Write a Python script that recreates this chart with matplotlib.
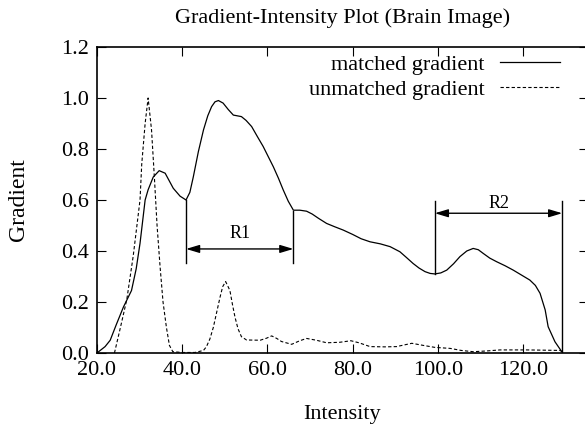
import matplotlib
matplotlib.use('Agg')
import matplotlib.pyplot as plt

plt.rcParams.update({'font.family': ['Liberation Serif', 'DejaVu Serif'],
                     'font.size': 16, 'mathtext.fontset': 'stix'})

# matched gradient (solid)
x_matched = [20.0, 21.9, 23.1, 24.5, 26.2, 28.1, 29.2, 30.1, 31.3, 32.0, 33.2,
             34.6, 36.0, 37.9, 39.5, 40.9, 41.8, 42.6, 43.8, 45.0, 46.0, 46.9,
             47.7, 48.5, 49.6, 50.8, 52.0, 53.9, 55.0, 56.3, 57.6, 59.0, 60.2,
             61.4, 62.6, 63.7, 64.9, 66.1, 67.6, 69.2, 70.5, 72.0, 73.9, 75.8,
             77.8, 80.0, 82.0, 84.1, 86.5, 88.8, 91.1, 92.6, 94.2, 95.6, 97.0,
             98.2, 99.3, 100.7, 102.1, 103.7, 105.2, 106.8, 108.3, 109.5, 110.7,
             112.2, 113.8, 115.8, 117.7, 119.7, 121.6, 122.9, 124.0, 125.2,
             125.9, 127.5, 129.1]
y_matched = [0.0, 0.025, 0.05, 0.11, 0.18, 0.245, 0.33, 0.43, 0.6, 0.64, 0.69,
             0.715, 0.705, 0.646, 0.615, 0.6, 0.63, 0.69, 0.79, 0.875, 0.93,
             0.966, 0.985, 0.99, 0.98, 0.955, 0.933, 0.927, 0.912, 0.888, 0.85,
             0.81, 0.77, 0.73, 0.685, 0.64, 0.595, 0.56, 0.56, 0.556, 0.545,
             0.528, 0.508, 0.495, 0.482, 0.465, 0.448, 0.436, 0.428, 0.417,
             0.397, 0.375, 0.351, 0.333, 0.319, 0.312, 0.31, 0.314, 0.325, 0.35,
             0.378, 0.40, 0.41, 0.405, 0.39, 0.372, 0.358, 0.342, 0.325, 0.305,
             0.286, 0.265, 0.234, 0.169, 0.103, 0.044, 0.005]

# unmatched gradient (dashed)
x_unmatched = [24.1, 25.5, 27.0, 28.5, 30.1, 30.5, 31.3, 32.0, 32.8, 33.5, 34.1,
               34.8, 35.5, 36.3, 37.0, 37.8, 40.0, 43.0, 45.0, 45.7, 46.5, 47.3,
               48.1, 48.9, 49.5, 50.2, 51.2, 51.8, 52.4, 53.1, 53.9, 55.1, 58.3,
               59.8, 61.0, 62.2, 63.3, 65.7, 67.6, 69.2, 71.5, 73.9, 77.0, 79.6,
               81.5, 84.1, 87.5, 90.3, 93.9, 96.5, 99.3, 102.9, 105.5, 108.3,
               111.5, 114.6, 120.9, 125.0, 128.7, 129.2]
y_unmatched = [0.0, 0.1, 0.21, 0.38, 0.6, 0.74, 0.90, 1.0, 0.875, 0.68, 0.5,
               0.34, 0.2, 0.10, 0.03, 0.005, 0.002, 0.002, 0.01, 0.025, 0.055,
               0.10, 0.16, 0.22, 0.26, 0.28, 0.245, 0.19, 0.14, 0.095, 0.064,
               0.051, 0.05, 0.058, 0.067, 0.057, 0.045, 0.034, 0.048, 0.057,
               0.05, 0.04, 0.042, 0.048, 0.04, 0.025, 0.024, 0.025, 0.038, 0.03,
               0.022, 0.018, 0.01, 0.005, 0.008, 0.012, 0.012, 0.011, 0.01, 0.005]

# range markers: (left x, right x, left vertical, right vertical, arrow y, label y)
ranges = {
    'R1': (40.9, 66.1, (0.354, 0.6), (0.354, 0.558), 0.408, 0.47),
    'R2': (99.3, 129.2, (0.31, 0.597), (0.0, 0.597), 0.548, 0.587),
}

x_ticks = [20, 40, 60, 80, 100, 120]
y_ticks = [0.0, 0.2, 0.4, 0.6, 0.8, 1.0, 1.2]

fig = plt.figure(figsize=(5.85, 4.26), dpi=100)
ax = fig.add_axes([0.1658, 0.1714, 0.8393, 0.7183])

ax.plot(x_matched, y_matched, 'k-', lw=0.9, label='matched gradient')
ax.plot(x_unmatched, y_unmatched, 'k--', lw=0.8, dashes=(3, 2),
        label='unmatched gradient')

for name, (xl, xr, vl, vr, ya, yt) in ranges.items():
    ax.plot([xl, xl], vl, 'k-', lw=1.0)
    ax.plot([xr, xr], vr, 'k-', lw=1.0)
    ax.annotate('', xy=(xl, ya), xytext=(xr, ya),
                arrowprops=dict(arrowstyle='<|-|>,head_length=0.5,head_width=0.15',
                                color='k', lw=1.0, shrinkA=0, shrinkB=0))
    ax.text((xl + xr) / 2, yt, name, ha='center', va='center', fontsize=13)

ax.set_xlim(20, 135.25)
ax.set_ylim(0, 1.2)
ax.set_xticks(x_ticks)
ax.set_xticklabels([f'{v:.1f}' for v in x_ticks])
ax.set_yticks(y_ticks)
ax.set_yticklabels([f'{v:.1f}' for v in y_ticks])
ax.tick_params(direction='in', length=6.5, width=0.8, top=True, right=True,
               labelsize=16, pad=6)
for s in ax.spines.values():
    s.set_linewidth(1.2)

ax.set_xlabel('Intensity', fontsize=16, labelpad=18)
ax.set_ylabel('Gradient', fontsize=17, labelpad=23)
ax.set_title('Gradient-Intensity Plot (Brain Image)', fontsize=16, pad=17)

ax.legend(loc='upper right', bbox_to_anchor=(560 / 585, 1 - 54 / 426),
          bbox_transform=fig.transFigure, frameon=False, markerfirst=False,
          handlelength=2.7, handletextpad=0.7, labelspacing=0.2,
          borderpad=0, borderaxespad=0, fontsize=16)

fig.savefig('out.png', dpi=100)
